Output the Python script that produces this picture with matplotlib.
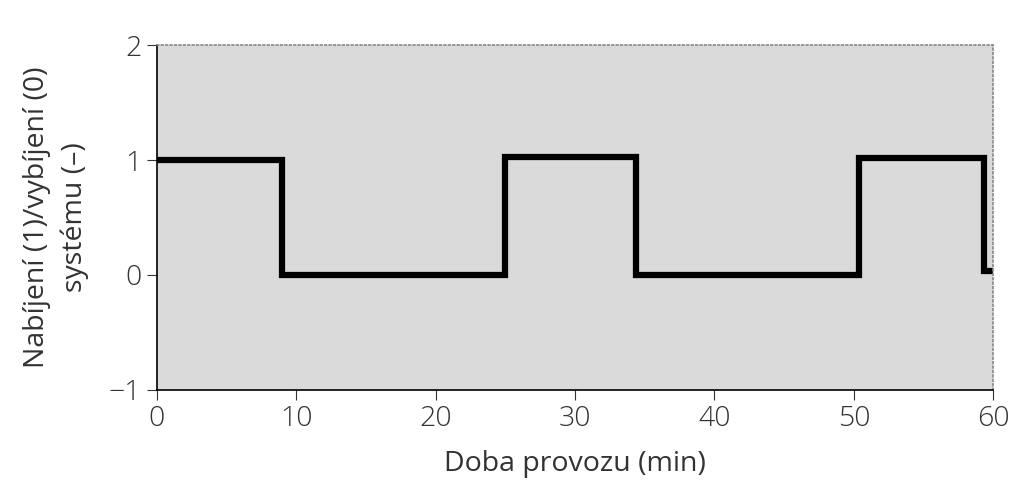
import matplotlib
matplotlib.use("Agg")
import matplotlib.pyplot as plt

# switching times (min) and charge(1)/discharge(0) state
time_min = [0, 9, 25, 34.4, 50.4, 59.3, 60]
state = [1.0, 0.0, 1.03, 0.0, 1.02, 0.03, 0.03]

x_ticks = [0, 10, 20, 30, 40, 50, 60]
y_ticks = [-1, 0, 1, 2]
y_tick_labels = ["\u22121", "0", "1", "2"]

plt.rcParams['font.family'] = ['Open Sans', 'DejaVu Sans']
plt.rcParams['font.weight'] = 'light'

fig = plt.figure(figsize=(10.24, 4.86), dpi=100)
ax = fig.add_axes([0.153, 0.198, 0.817, 0.709])
ax.set_facecolor('#dadada')

ax.plot(time_min, state, drawstyle='steps-post', color='black', lw=4.5,
        solid_joinstyle='miter', solid_capstyle='round')

ax.set_xlim(0, 60)
ax.set_ylim(-1, 2)
ax.set_xticks(x_ticks)
ax.set_yticks(y_ticks)
ax.set_yticklabels(y_tick_labels)
ax.tick_params(axis='both', labelsize=20.5, colors='#333333', width=0.8,
               length=7, direction='out', pad=4)

for side in ['top', 'right']:
    ax.spines[side].set_color('#888888')
    ax.spines[side].set_linestyle(':')
    ax.spines[side].set_linewidth(1.2)
for side in ['left', 'bottom']:
    ax.spines[side].set_color('black')
    ax.spines[side].set_linewidth(1.2)

ax.set_xlabel('Doba provozu (min)', fontsize=20.5, color='#333333', labelpad=12)
ax.set_ylabel('Nabíjení (1)/vybíjení (0)\nsystému (–)', fontsize=20.5,
              color='#333333', labelpad=14, linespacing=1.45)

fig.savefig('out.png', dpi=100, facecolor='white')
